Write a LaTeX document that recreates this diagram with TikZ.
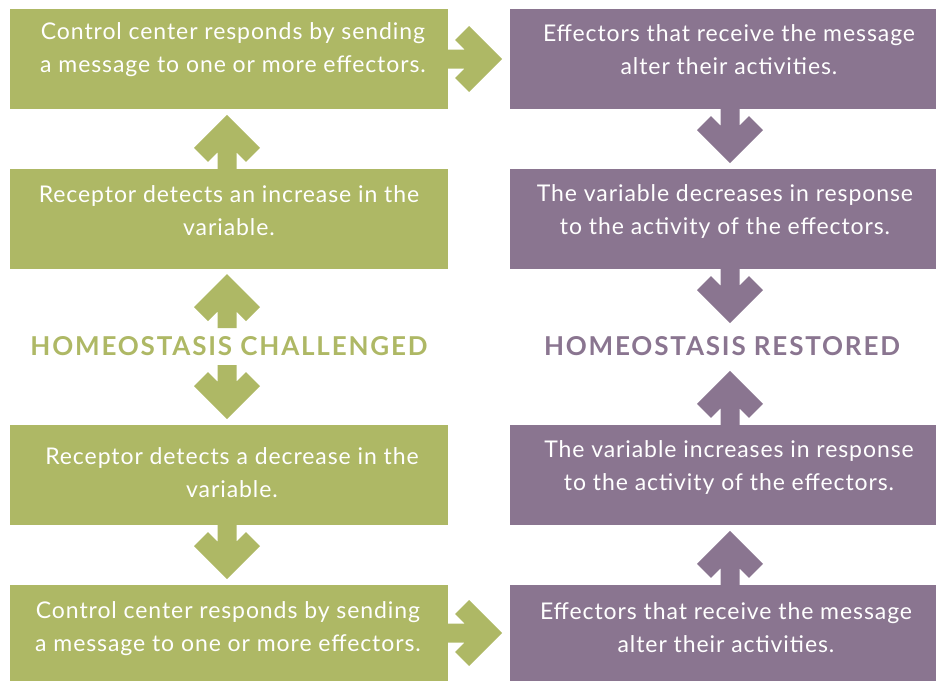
\documentclass[tikz,border=0pt]{standalone}
\usepackage{fontspec}
\setmainfont{Lato}
\newfontfamily\bodyfont{Lato}[LetterSpace=4]
\newfontfamily\ttlfont{Lato}[LetterSpace=7]
\usetikzlibrary{calc}
\definecolor{grn}{HTML}{AEB865}
\definecolor{prp}{HTML}{8A7590}
\tikzset{
  box/.style={rectangle, inner sep=0pt, minimum height=100pt},
  gbox/.style={box, fill=grn, minimum width=438pt},
  pbox/.style={box, fill=prp, minimum width=426pt},
  txt/.style={text=white, align=center, font=\bodyfont\fontsize{23}{33}\selectfont},
  ttl/.style={font=\ttlfont\fontsize{26}{30}\selectfont\bfseries},
  barrow/.pic={\fill[#1] (0,-9.5) -- (16.5,-9.5) -- (7,-19) -- (21,-33) -- (54,0) -- (21,33) -- (7,19) -- (16.5,9.5) -- (0,9.5) -- cycle;}
}
\begin{document}
\begin{tikzpicture}[x=1pt,y=-1pt]
\useasboundingbox (0,0) rectangle (936,681);
% boxes
\node[gbox] (l1) at (229,59) {};
\node[pbox] (r1) at (723,59) {};
\node[gbox] (l2) at (229,219) {};
\node[pbox] (r2) at (723,219) {};
\node[gbox] (l3) at (229,475) {};
\node[pbox] (r3) at (723,475) {};
\node[gbox, minimum height=96pt] (l4) at (229,633) {};
\node[pbox, minimum height=96pt] (r4) at (723,633) {};
% texts
\node[txt] (t1) at ($(l1.center)+(4,-9)$) {Control center responds by sending\\a message to one or more effectors.};
\node[txt] (t2) at ($(l2.center)+(0,-8)$) {Receptor detects an increase in the\\variable.};
\node[txt] (t3) at ($(l3.center)+(3,-2)$) {Receptor detects a decrease in the\\variable.};
\node[txt] (t4) at ($(l4.center)+(-1,-4)$) {Control center responds by sending\\a message to one or more effectors.};
\node[txt] (u1) at ($(r1.center)+(6,-9)$) {Effectors that receive the message\\alter their activities.};
\node[txt] (u2) at ($(r2.center)+(2,-8)$) {The variable decreases in response\\to the activity of the effectors.};
\node[txt] (u3) at ($(r3.center)+(6,-8)$) {The variable increases in response\\to the activity of the effectors.};
\node[txt] (u4) at ($(r4.center)+(3,-5)$) {Effectors that receive the message\\alter their activities.};
% titles
\node[ttl, text=grn] (hc) at (229,346) {HOMEOSTASIS CHALLENGED};
\node[ttl, text=prp] (hr) at (722,346) {HOMEOSTASIS RESTORED};
\coordinate (hcu) at (227,328);
\coordinate (hcd) at (227,365);
% arrows
\pic at (l1.east) {barrow=grn};
\pic[rotate=90] at ($(l2.north)+(-2,0)$) {barrow=grn};
\pic[rotate=90] at (hcu) {barrow=grn};
\pic[rotate=-90] at (hcd) {barrow=grn};
\pic[rotate=-90] at ($(l3.south)+(-2,0)$) {barrow=grn};
\pic at (l4.east) {barrow=grn};
\pic[rotate=-90] at ($(r1.south)+(7,0)$) {barrow=prp};
\pic[rotate=-90] at ($(r2.south)+(7,0)$) {barrow=prp};
\pic[rotate=90] at ($(r3.north)+(7,0)$) {barrow=prp};
\pic[rotate=90] at ($(r4.north)+(7,0)$) {barrow=prp};
\end{tikzpicture}
\end{document}
